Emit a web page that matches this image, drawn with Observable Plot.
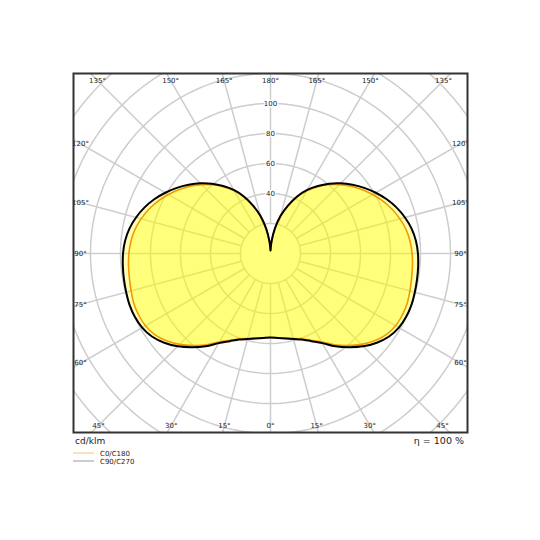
<!DOCTYPE html>
<html>
<head>
<meta charset="utf-8">
<script src="https://cdn.jsdelivr.net/npm/d3@7"></script>
<script src="https://cdn.jsdelivr.net/npm/@observablehq/plot@0.6"></script>
<style>
  html, body { margin: 0; padding: 0; background: white; }
  #wrap { position: relative; width: 540px; height: 540px; background: white; }
  #legend { position: absolute; left: 0; top: 434px; }
  #legend text { font-family: "DejaVu Sans", sans-serif; fill: #222; }
</style>
</head>
<body>
<div id="wrap"></div>
<script>
// ---- data (cd/klm) ----
const gammaDeg = [0,5,10,15,20,25,30,35,40,45,50,55,60,65,70,75,80,85,90,95,100,105,110,115,120,125,130,135,140,145,150,155,160,165,170,175,180];
const c0c180 = [56,56.5,57.3,58.7,60.5,63.8,68,74.3,80,85.7,90.5,94.2,96.3,97,97,96.2,95.5,95,94.4,93.4,91.8,89.3,86.3,82.7,78.6,74.3,69.7,64.9,59.8,54.2,48.3,41.5,33.6,25.7,16.8,7.9,2];
const c90c270 = [56,56.5,57.5,59,61,64.5,69,75.5,81.5,87.5,92.5,96.5,98.8,99.8,100,99.6,99.2,98.8,98.3,97.3,95.5,92.8,89.5,85.5,81,76.3,71.3,66.2,60.8,55,49,42,34,26,17,8,2];
const ringValues = [20,40,60,80,100,120,140,160,180];
const ringLabels = [40,60,80,100];
const spokeAngles = [0,15,30,45,60,75,90,105,120,135,150,165,180,195,210,225,240,255,270,285,300,315,330,345];
const bottomTicks = [0,15,30,45];
const sideTicks = [60,75,90,105,120];
const topTicks = [135,150,165,180];
const unitLabel = "cd/klm";
const efficiencyLabel = "η = 100 %";
const seriesNames = ["C0/C180", "C90/C270"];

// ---- helpers ----
const rad = d => d * Math.PI / 180;
const polar = (g, r, side) => ({x: side * r * Math.sin(rad(g)), y: -r * Math.cos(rad(g))});

function loop(vals) {
  const pts = [];
  for (let i = gammaDeg.length - 1; i >= 0; i--) pts.push(polar(gammaDeg[i], vals[i], 1));
  for (let i = 1; i < gammaDeg.length; i++) pts.push(polar(gammaDeg[i], vals[i], -1));
  return pts;
}
const loop0 = loop(c0c180);
const loop90 = loop(c90c270);

const ringPts = [];
for (const r of ringValues) {
  for (let a = 0; a <= 360; a += 2) ringPts.push({ring: r, ...polar(a, r, 1)});
}
const spokes = spokeAngles.map(a => {
  const p1 = polar(a, 20, 1), p2 = polar(a, 220, 1);
  return {x1: p1.x, y1: p1.y, x2: p2.x, y2: p2.y};
});

// angle labels placed just inside the frame along each spoke
const insetBottom = 114.67, insetTop = 115.3, insetSide = 126.67;
const angleLabels = [];
for (const g of bottomTicks) {
  for (const s of (g === 0 ? [1] : [1, -1])) angleLabels.push({x: s * insetBottom * Math.tan(rad(g)), y: -insetBottom, t: g + "°"});
}
for (const g of sideTicks) {
  for (const s of [1, -1]) angleLabels.push({x: s * insetSide, y: -insetSide / Math.tan(rad(g)), t: g + "°"});
}
for (const g of topTicks) {
  for (const s of (g === 180 ? [1] : [1, -1])) angleLabels.push({x: s * insetTop * Math.tan(rad(180 - g)), y: insetTop, t: g + "°"});
}

const chart = Plot.plot({
  width: 540,
  height: 434,
  marginLeft: 73,
  marginRight: 73,
  marginTop: 73,
  marginBottom: 2,
  x: {domain: [-131.33, 131.33], axis: null},
  y: {domain: [-119.33, 120], axis: null},
  style: {fontFamily: "DejaVu Sans", fontSize: "7px", background: "white"},
  marks: [
    Plot.line(ringPts, {x: "x", y: "y", z: "ring", stroke: "#cdcdcd", strokeWidth: 1.5, clip: true}),
    Plot.link(spokes, {x1: "x1", y1: "y1", x2: "x2", y2: "y2", stroke: "#cdcdcd", strokeWidth: 1.5, clip: true}),
    Plot.line(loop90, {x: "x", y: "y", fill: "#ffff00", fillOpacity: 0.3, stroke: "none", curve: "catmull-rom"}),
    Plot.line(loop0, {x: "x", y: "y", fill: "#ffff00", fillOpacity: 0.3, stroke: "none", curve: "catmull-rom"}),
    Plot.line(loop0, {x: "x", y: "y", stroke: "#f29a00", strokeWidth: 1.6, curve: "catmull-rom"}),
    Plot.line(loop90, {x: "x", y: "y", stroke: "#000", strokeWidth: 2, curve: "catmull-rom"}),
    Plot.text(ringLabels, {x: 0, y: d => d, text: d => String(d), fill: "#222", stroke: "white", strokeWidth: 2.5, fontSize: 7}),
    Plot.text(angleLabels, {x: "x", y: "y", text: "t", fill: "#222", fontSize: 7, clip: true}),
    Plot.frame({stroke: "#333", strokeWidth: 2})
  ]
});
document.getElementById("wrap").appendChild(chart);

// caption + legend below the chart
const leg = d3.create("svg").attr("id", "legend").attr("width", 540).attr("height", 40);
leg.append("text").attr("x", 75).attr("y", 10).attr("font-size", 9).text(unitLabel);
leg.append("text").attr("x", 464).attr("y", 10).attr("text-anchor", "end").attr("font-size", 9.5).text(efficiencyLabel);
const legColors = ["#f7c27a", "#999999"];
seriesNames.forEach((name, i) => {
  const y = 19 + i * 8;
  leg.append("line").attr("x1", 73).attr("x2", 94).attr("y1", y).attr("y2", y).attr("stroke", legColors[i]).attr("stroke-width", 1);
  leg.append("text").attr("x", 100).attr("y", y + 2.7).attr("font-size", 7).text(name);
});
document.getElementById("wrap").appendChild(leg.node());
</script>
</body>
</html>
